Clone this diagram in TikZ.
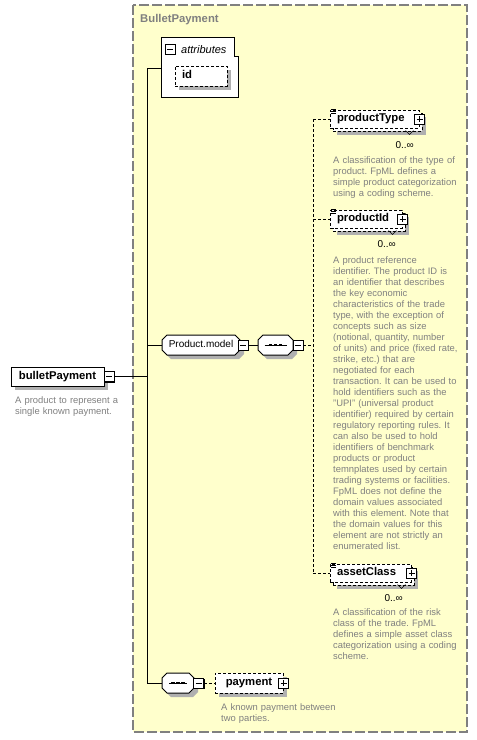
\documentclass[tikz,border=0pt]{standalone}
\usepackage{fontspec}
\setmainfont{Liberation Sans}
\definecolor{bgyellow}{HTML}{FFFFCC}
\definecolor{bordergray}{HTML}{808080}
\definecolor{shadowgray}{HTML}{B0B0B0}
\definecolor{descgray}{HTML}{808080}
\frenchspacing
\tikzset{
  box/.style={draw=black, fill=white, line width=1pt, inner sep=0pt},
  elem/.style={box, font=\fontsize{11.3}{13}\selectfont\bfseries, text height=8.2pt, text depth=2.4pt},
  optdash/.style={dash pattern=on 3pt off 2pt},
  conn/.style={draw=black, line width=1pt},
  leftlbl/.style={align=left, inner xsep=7pt, inner ysep=0pt},
  grplbl/.style={inner sep=0pt, minimum height=20pt},
  sbox/.style={box, minimum size=10pt, line width=0.8pt},
  minusbox/.style={sbox,
    path picture={\draw[line width=1pt] ([xshift=2pt]path picture bounding box.west) -- ([xshift=-2pt]path picture bounding box.east);}},
  plusbox/.style={sbox,
    path picture={\draw[line width=1pt] ([xshift=2pt]path picture bounding box.west) -- ([xshift=-2pt]path picture bounding box.east);
      \draw[line width=1pt] ([yshift=-2pt]path picture bounding box.north) -- ([yshift=2pt]path picture bounding box.south);}},
  desc/.style={anchor=base west, inner sep=0pt, text width=140pt, align=left, font=\fontsize{9.4}{11}\selectfont, text=descgray},
  occ/.style={anchor=base east, inner sep=0pt, font=\fontsize{10}{12}\selectfont},
  icon/.style={line width=0.8pt},
  shadownode/.style={fill=shadowgray, draw=none, inner sep=0pt, outer sep=0pt},
  btnshadow/.style={fill=black, draw=none, inner sep=0pt, minimum size=10pt},
}
% chamfered outline: #1 centre, #2 half width, #3 half height, #4 style
\newcommand{\chamfpath}[4]{%
  \path[#4, shift={#1}] ({-#2+5},{-#3}) -- ({#2-5},{-#3}) -- ({#2},{-#3+5}) -- ({#2},{#3-5}) -- ({#2-5},{#3}) -- ({-#2+5},{#3}) -- ({-#2},{#3-5}) -- ({-#2},{-#3+5}) -- cycle;}
\begin{document}
\begin{tikzpicture}[x=1pt,y=-1pt]
\useasboundingbox (0,0) rectangle (477,740);
\fill[white] (0,0) rectangle (477,740);
% group background
\draw[fill=bgyellow, draw=bordergray, line width=2pt, dash pattern=on 10pt off 3pt] (133,5) rectangle (467,732);
\node[anchor=base west, text=bordergray, font=\fontsize{11.3}{13}\selectfont\bfseries, inner sep=0pt] (title) at (140,22.5) {BulletPayment};

% spine coordinates
\coordinate (spineT) at (147,68);
\coordinate (spineB) at (147,683);
\coordinate (dspine) at (313,0);

% attributes
\node[inner sep=0pt, minimum width=76pt, minimum height=59pt] (attr) at (200,67.5) {};
\draw[box] (attr.north west) -- ([xshift=-4pt]attr.north east) -- ([xshift=-4pt,yshift=-19pt]attr.north east) -- ([yshift=-19pt]attr.north east) -- (attr.south east) -- (attr.south west) -- cycle;
\node[minusbox] (attrm) at (170,49) {};
\node[anchor=base west, inner sep=0pt, font=\fontsize{11}{13}\selectfont\itshape] (attrlbl) at (181,53) {attributes};
\node[shadownode, minimum width=52pt, minimum height=20pt] (idS) at (205,80) {};
\node[elem, optdash, minimum height=20pt, text width=38pt, leftlbl] (id) at (201,76) {id};

% root
\node[shadownode, minimum width=93pt, minimum height=19pt] (rootS) at (61.5,380.5) {};
\node[elem, minimum width=93pt, minimum height=19pt] (root) at (57.5,376.5) {bulletPayment};
\node[btnshadow] (rootmS) at (110.2,377.7) {};
\node[minusbox] (rootm) at (109,376.5) {};
\node[desc] (rootdesc) at (15,403.5) {A product to represent a\\single known payment.};

% spine
\draw[conn] (rootm.east) -- (rootm.east -| spineT);
\draw[conn] (spineT) -- (spineB);
\draw[conn] (spineT) -- (attr.west |- spineT);

% Product.model
\chamfpath{(205,349)}{39}{10}{shadownode}
\chamfpath{(201,345)}{39}{10}{box}
\node[grplbl, minimum width=78pt, font=\fontsize{10}{12}\selectfont, text height=7.5pt, text depth=2pt] (pm) at (201,345) {Product.model};
\node[btnshadow] (pmmS) at (244.2,346.2) {};
\node[minusbox] (pmm) at (243,345) {};
\draw[conn] (pm.west -| spineT) -- (pm.west);
\chamfpath{(279.5,349)}{17.5}{10}{shadownode}
\chamfpath{(275.5,345)}{17.5}{10}{box}
\node[grplbl, minimum width=35pt] (seq1) at (275.5,345) {};
\node[btnshadow] (seq1mS) at (299.2,346.2) {};
\node[minusbox] (seq1m) at (298,345) {};
\draw[conn] (pmm.east) -- (seq1.west);
\draw[line width=1pt] ([xshift=-11pt]seq1.center) -- ([xshift=11pt]seq1.center);
\foreach \dx in {-5,0,5} \fill ([xshift=\dx pt]seq1.center) +(-1.6,-1.3) rectangle +(1.6,1.3);
\draw[conn, optdash] (seq1m.east) -- (seq1m.east -| dspine);

% productType
\node[shadownode, minimum width=89pt, minimum height=18pt] (ptS) at (381.5,126) {};
\node[elem, optdash, minimum width=89pt, minimum height=18pt] (ptB) at (377.5,122) {};
\node[elem, optdash, minimum height=18pt, text width=75pt, leftlbl] (pt) at (374.5,119) {productType};
\node[btnshadow] (ptpS) at (420.2,120.2) {};
\node[plusbox] (ptp) at (pt.east) {};
\foreach \dy in {0,2,4} \draw[icon] ([xshift=1pt,yshift=-\dy pt]pt.north west) -- ++(5,0);
\draw[line width=0.6pt] ([xshift=-14pt,yshift=-2pt]pt.south east) -- ++(4,4) -- ++(4,-4);
\node[occ] (ptocc) at (414,148) {0..∞};
\node[desc] (ptdesc) at (333,163.5) {A classification of the type of\\product. FpML defines a\\simple product categorization\\using a coding scheme.};

% productId
\node[shadownode, minimum width=72pt, minimum height=18pt] (piS) at (373,226) {};
\node[elem, optdash, minimum width=72pt, minimum height=18pt] (piB) at (369,222) {};
\node[elem, optdash, minimum height=18pt, text width=58pt, leftlbl] (pi) at (366,219) {productId};
\node[btnshadow] (pipS) at (403.2,220.2) {};
\node[plusbox] (pip) at (pi.east) {};
\foreach \dy in {0,2,4} \draw[icon] ([xshift=1pt,yshift=-\dy pt]pi.north west) -- ++(5,0);
\draw[line width=0.6pt] ([xshift=-14pt,yshift=-2pt]pi.south east) -- ++(4,4) -- ++(4,-4);
\node[occ] (piocc) at (396,247) {0..∞};
\node[desc] (pidesc) at (333,263.5) {A product reference\\identifier. The product ID is\\an identifier that describes\\the key economic\\characteristics of the trade\\type, with the exception of\\concepts such as size\\(notional, quantity, number\\of units) and price (fixed rate,\\strike, etc.) that are\\negotiated for each\\transaction. It can be used to\\hold identifiers such as the\\"UPI" (universal product\\identifier) required by certain\\regulatory reporting rules. It\\can also be used to hold\\identifiers of benchmark\\products or product\\temnplates used by certain\\trading systems or facilities.\\FpML does not define the\\domain values associated\\with this element. Note that\\the domain values for this\\element are not strictly an\\enumerated list.};

% assetClass
\node[shadownode, minimum width=81pt, minimum height=18pt] (acS) at (377.5,580) {};
\node[elem, optdash, minimum width=81pt, minimum height=18pt] (acB) at (373.5,576) {};
\node[elem, optdash, minimum height=18pt, text width=67pt, leftlbl] (ac) at (370.5,573) {assetClass};
\node[btnshadow] (acpS) at (412.2,574.2) {};
\node[plusbox] (acp) at (ac.east) {};
\foreach \dy in {0,2,4} \draw[icon] ([xshift=1pt,yshift=-\dy pt]ac.north west) -- ++(5,0);
\draw[line width=0.6pt] ([xshift=-14pt,yshift=-2pt]ac.south east) -- ++(4,4) -- ++(4,-4);
\node[occ] (acocc) at (403,601) {0..∞};
\node[desc] (acdesc) at (333,615) {A classification of the risk\\class of the trade. FpML\\defines a simple asset class\\categorization using a coding\\scheme.};

% dashed choice spine
\draw[conn, optdash] (pt.west -| dspine) -- (ac.west -| dspine);
\draw[conn, optdash] (pt.west -| dspine) -- (pt.west);
\draw[conn, optdash] (pi.west -| dspine) -- (pi.west);
\draw[conn, optdash] (ac.west -| dspine) -- (ac.west);

% bottom sequence + payment
\chamfpath{(182,687)}{16}{10}{shadownode}
\chamfpath{(178,683)}{16}{10}{box}
\node[grplbl, minimum width=32pt] (seq2) at (178,683) {};
\node[btnshadow] (seq2mS) at (199.7,684.2) {};
\node[minusbox] (seq2m) at (198.5,683) {};
\draw[line width=1pt] ([xshift=-9pt]seq2.center) -- ([xshift=9pt]seq2.center);
\foreach \dx in {-5,0,5} \fill ([xshift=\dx pt]seq2.center) +(-1.6,-1.3) rectangle +(1.6,1.3);
\draw[conn] (spineB) -- (seq2.west);
\node[shadownode, minimum width=68pt, minimum height=20pt] (payS) at (253,687) {};
\node[elem, optdash, minimum width=68pt, minimum height=20pt] (pay) at (249,683) {payment};
\node[btnshadow] (paypS) at (284.2,684.2) {};
\node[plusbox] (payp) at (pay.east) {};
\draw[conn, optdash] (seq2m.east) -- (pay.west);
\node[desc] (paydesc) at (221,710) {A known payment between\\two parties.};
\end{tikzpicture}
\end{document}
